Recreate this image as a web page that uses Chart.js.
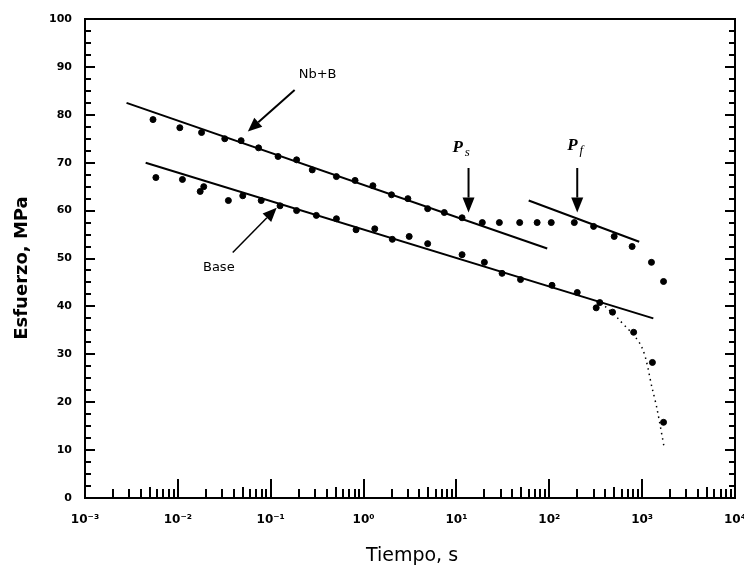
<!DOCTYPE html>
<html>
<head>
    <title>Esfuerzo vs Tiempo</title>
    <script src="https://cdn.jsdelivr.net/npm/chart.js"></script>
    <style>
      body { margin: 0; background: #fff; }
    </style>
</head>
<body>
    <canvas id="chart" width="744" height="574"></canvas>

    <script>
    // tick labels
    const decadeExp = [-3, -2, -1, 0, 1, 2, 3, 4];
    const xTickLabels = ['10\u207B\u00B3', '10\u207B\u00B2', '10\u207B\u00B9', '10\u2070', '10\u00B9', '10\u00B2', '10\u00B3', '10\u2074'];
    const yTickValues = [0, 10, 20, 30, 40, 50, 60, 70, 80, 90, 100];

    // Nb+B measured points (time s, stress MPa)
    const nbbTime = [0.0054, 0.0105, 0.018, 0.032, 0.048, 0.074, 0.12, 0.19, 0.28, 0.51, 0.81, 1.26, 2.0, 3.0,
                     4.9, 7.4, 11.5, 19, 29, 48, 74, 105, 186, 300, 500, 780, 1260, 1700];
    const nbbStress = [79.0, 77.3, 76.3, 75.0, 74.6, 73.1, 71.3, 70.6, 68.5, 67.1, 66.3, 65.2, 63.3, 62.5,
                       60.4, 59.6, 58.5, 57.5, 57.5, 57.5, 57.5, 57.5, 57.5, 56.7, 54.6, 52.5, 49.2, 45.2];

    // Base measured points
    const baseTime = [0.0058, 0.0112, 0.0174, 0.019, 0.035, 0.050, 0.079, 0.126, 0.19, 0.31, 0.51, 0.83, 1.32, 2.04,
                      3.1, 4.9, 11.5, 20, 31, 49, 107, 200, 320, 350, 480, 810, 1290, 1700];
    const baseStress = [66.9, 66.5, 64.0, 65.0, 62.1, 63.1, 62.1, 61.0, 60.0, 59.0, 58.3, 56.0, 56.2, 54.0,
                        54.6, 53.1, 50.8, 49.2, 46.9, 45.6, 44.4, 42.9, 39.7, 40.8, 38.8, 34.6, 28.3, 15.8];

    // fitted straight lines
    const nbbFitTime = [0.0028, 95];
    const nbbFitStress = [82.5, 52.1];
    const baseFitTime = [0.0045, 1320];
    const baseFitStress = [70.0, 37.5];
    const pfFitTime = [60, 930];
    const pfFitStress = [62.1, 53.5];

    // dotted curve at the end of Base
    const tailTime = [400, 560, 980, 1290, 1450, 1740];
    const tailStress = [40.0, 37.3, 31.7, 22.7, 18.5, 10.2];

    const toXY = (t, s) => t.map((v, i) => ({ x: v, y: s[i] }));

    const FRAME = '#000';

    function arrow(ctx, x0, y0, x1, y1, len, half, lw) {
      const a = Math.atan2(y1 - y0, x1 - x0);
      const bx = x1 - len * Math.cos(a), by = y1 - len * Math.sin(a);
      ctx.lineWidth = lw;
      ctx.beginPath();
      ctx.moveTo(x0, y0);
      ctx.lineTo(bx, by);
      ctx.stroke();
      ctx.beginPath();
      ctx.moveTo(x1, y1);
      ctx.lineTo(bx + half * Math.sin(a), by - half * Math.cos(a));
      ctx.lineTo(bx - half * Math.sin(a), by + half * Math.cos(a));
      ctx.closePath();
      ctx.fill();
    }

    const decor = {
      id: 'decor',
      afterDraw(chart) {
        const ctx = chart.ctx;
        const xs = chart.scales.x, ys = chart.scales.y;
        const a = chart.chartArea;
        ctx.save();
        ctx.strokeStyle = FRAME;
        ctx.fillStyle = FRAME;

        // frame
        ctx.lineWidth = 2;
        ctx.strokeRect(a.left, a.top, a.right - a.left, a.bottom - a.top);

        // y ticks, inward on left and right
        ctx.lineWidth = 2;
        for (let v = 0; v <= 100; v += 2.5) {
          const py = Math.round(ys.getPixelForValue(v));
          const L = (v % 10 === 0) ? 10 : 6;
          ctx.beginPath();
          ctx.moveTo(a.left, py); ctx.lineTo(a.left + L, py);
          ctx.moveTo(a.right, py); ctx.lineTo(a.right - L, py);
          ctx.stroke();
        }
        // x ticks, inward at the bottom
        decadeExp.forEach(d => {
          for (let k = 1; k <= 9; k++) {
            if (d === 4 && k > 1) break;
            const px = Math.round(xs.getPixelForValue(k * Math.pow(10, d)));
            const L = k === 1 ? 19 : (k === 5 ? 11 : 9);
            ctx.beginPath();
            ctx.moveTo(px, a.bottom); ctx.lineTo(px, a.bottom - L);
            ctx.stroke();
          }
        });

        // annotations
        const P = (t, s) => [xs.getPixelForValue(t), ys.getPixelForValue(s)];
        ctx.font = '13px "DejaVu Sans"';
        ctx.textAlign = 'center';
        ctx.textBaseline = 'middle';
        let p = P(0.32, 88.3);
        ctx.fillText('Nb+B', p[0], p[1]);
        let t0 = P(0.181, 85.2), t1 = P(0.0567, 76.5);
        arrow(ctx, t0[0], t0[1], t1[0], t1[1], 14, 6, 2);

        p = P(0.0276, 48.1);
        ctx.fillText('Base', p[0], p[1]);
        t0 = P(0.039, 51.25); t1 = P(0.116, 60.6);
        arrow(ctx, t0[0], t0[1], t1[0], t1[1], 14, 6, 1.5);

        // Ps and Pf
        const sub = (label, s, t, y) => {
          const q = P(t, y);
          ctx.textAlign = 'left';
          ctx.textBaseline = 'alphabetic';
          ctx.font = 'italic bold 17px "Liberation Serif"';
          const w = ctx.measureText(label).width;
          ctx.fillText(label, q[0] - 10, q[1]);
          ctx.font = 'italic 13px "Liberation Serif"';
          ctx.fillText(s, q[0] - 10 + w + 2, q[1] + 4);
        };
        sub('P', 's', 11.6, 72.2);
        sub('P', 'f', 200, 72.6);
        t0 = P(13.5, 68.9); t1 = P(13.5, 59.6);
        arrow(ctx, t0[0], t0[1], t1[0], t1[1], 15, 6, 2);
        t0 = P(200, 68.9); t1 = P(200, 59.6);
        arrow(ctx, t0[0], t0[1], t1[0], t1[1], 15, 6, 2);

        // axis titles
        ctx.textAlign = 'center';
        ctx.textBaseline = 'middle';
        ctx.font = '19px "DejaVu Sans"';
        ctx.fillText('Tiempo, s', (a.left + a.right) / 2 + 2, 556);
        ctx.translate(22, 268);
        ctx.rotate(-Math.PI / 2);
        ctx.font = 'bold 18px "DejaVu Sans"';
        ctx.fillText('Esfuerzo, MPa', 0, 0);
        ctx.restore();
      }
    };

    const ctx = document.getElementById('chart').getContext('2d');
    const chart = new Chart(ctx, {
      type: 'scatter',
      data: {
        datasets: [
          { label: 'Nb+B', data: toXY(nbbTime, nbbStress), backgroundColor: '#000', borderColor: '#000',
            pointRadius: 3, pointStyle: 'circle' },
          { label: 'Base', data: toXY(baseTime, baseStress), backgroundColor: '#000', borderColor: '#000',
            pointRadius: 3, pointStyle: 'circle' },
          { label: 'Nb+B fit', data: toXY(nbbFitTime, nbbFitStress), showLine: true, borderColor: '#000',
            borderWidth: 2, pointRadius: 0 },
          { label: 'Base fit', data: toXY(baseFitTime, baseFitStress), showLine: true, borderColor: '#000',
            borderWidth: 2, pointRadius: 0 },
          { label: 'Pf fit', data: toXY(pfFitTime, pfFitStress), showLine: true, borderColor: '#000',
            borderWidth: 2, pointRadius: 0 },
          { label: 'tail', data: toXY(tailTime, tailStress), showLine: true, borderColor: '#000',
            borderWidth: 1.5, borderDash: [1.5, 4], pointRadius: 0, tension: 0.3 }
        ]
      },
      options: {
        responsive: false,
        animation: false,
        layout: { padding: { top: 19, right: 9, left: 0, bottom: 0 } },
        plugins: { legend: { display: false }, tooltip: { enabled: false } },
        scales: {
          x: {
            type: 'logarithmic',
            min: 0.001, max: 10000,
            grid: { display: false, drawTicks: false },
            border: { display: false },
            afterBuildTicks: s => { s.ticks = decadeExp.map(d => ({ value: Math.pow(10, d) })); },
            ticks: {
              autoSkip: false, maxRotation: 0, padding: 15,
              color: '#000', font: { family: 'DejaVu Sans', size: 12, weight: 'bold' },
              callback: (v, i) => xTickLabels[i]
            },
            afterFit: s => { s.height = 76; s.paddingLeft = 0; s.paddingRight = 0; }
          },
          y: {
            min: 0, max: 100,
            grid: { display: false, drawTicks: false },
            border: { display: false },
            afterBuildTicks: s => { s.ticks = yTickValues.map(v => ({ value: v })); },
            ticks: {
              padding: 13, color: '#000',
              font: { family: 'DejaVu Sans', size: 11, weight: 'bold' }
            },
            afterFit: s => { s.width = 85; s.paddingTop = 0; s.paddingBottom = 0; }
          }
        }
      },
      plugins: [decor]
    });
    </script>
</body>
</html>
